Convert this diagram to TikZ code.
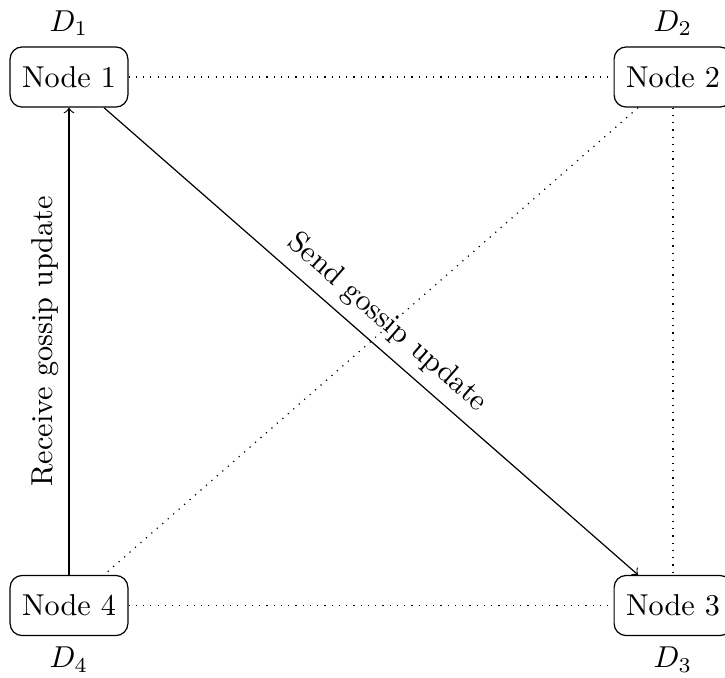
\documentclass[tikz,border=0pt]{standalone}
\begin{document}
\begin{tikzpicture}[x=0.331pt,y=-0.331pt,
  peer/.style={draw, rounded corners=4pt, minimum width=39pt, minimum height=19.9pt, inner sep=0pt},
  link/.style={dotted},
  msg/.style={->}]
\useasboundingbox (0,0) rectangle (725,677);
\node[peer, label=above:$D_1$] (n1) at (69,77) {Node 1};
\node[peer, label=above:$D_2$] (n2) at (673,77) {Node 2};
\node[peer, label=below:$D_3$] (n3) at (673,605.5) {Node 3};
\node[peer, label=below:$D_4$] (n4) at (69,605.5) {Node 4};
\draw[link] (n1) -- (n2);
\draw[link] (n2) -- (n3);
\draw[link] (n4) -- (n3);
\draw[link] (n2) -- (n4);
\draw[msg] (n4) -- node[midway, above, sloped] {Receive gossip update} (n1);
\draw[msg] (n1) -- node[midway, above, sloped] {Send gossip update} (n3);
\end{tikzpicture}
\end{document}
